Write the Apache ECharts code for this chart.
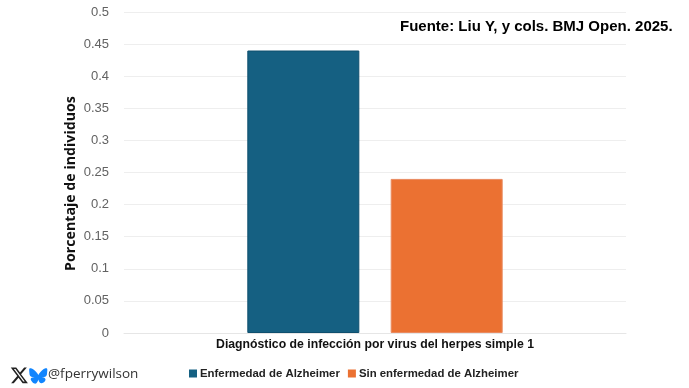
<!DOCTYPE html>
<html>
<head>
<meta charset="utf-8">
<style>
  html, body { margin: 0; padding: 0; background: #fff; }
  #chart { width: 689px; height: 388px; }
</style>
<script src="https://cdn.jsdelivr.net/npm/echarts@6/dist/echarts.min.js"></script>
</head>
<body>
<div id="chart"></div>
<script>
const categories = ['Diagnóstico de infección por virus del herpes simple 1']
const seriesNames = ['Enfermedad de Alzheimer', 'Sin enfermedad de Alzheimer']
const alzheimerValues = [0.44]
const noAlzheimerValues = [0.24]
const yTickLabels = ['0', '0.05', '0.1', '0.15', '0.2', '0.25', '0.3', '0.35', '0.4', '0.45', '0.5']

// logos dibujados sobre una caja de 24x24
echarts.graphic.registerShape('logoX', echarts.graphic.extendPath(
  'M18.2 2h3.4l-7.4 8.5L23 22h-6.8l-5.3-7-6.1 7H1.4l7.9-9.1L1 2h7l4.8 6.4zM17 20h1.9L7 3.9H5z', {}))
echarts.graphic.registerShape('logoBluesky', echarts.graphic.extendPath(
  'M12 11C10.9 8.9 8 5 5.3 3.1 2.7 1.3 1.7 1.6 1.1 1.9.3 2.2.2 3.4.2 4.1c0 .7.4 5.7.6 6.5.8 2.8 3.7 3.7 6.4 3.4-3.9.6-7.4 2-2.8 7.1 5 5.2 6.9-1.1 7.6-3.7.7 2.6 1.6 7.5 7.2 3.7 4.2-3.7 1.2-6.5-2.7-7.1 2.7.3 5.6-.6 6.4-3.4.2-.8.6-5.8.6-6.5 0-.7-.1-1.9-.9-2.2-.6-.3-1.6-.6-4.2 1.2C16 5 13.1 8.9 12 11z', {}))

const chart = echarts.init(document.getElementById('chart'))
const font = '"Liberation Sans", Arial, sans-serif'

chart.setOption({
  animation: false,
  backgroundColor: '#fff',
  grid: { left: 124, right: 63, top: 12, bottom: 55 },
  legend: {
    left: 184,
    top: 363,
    itemWidth: 8,
    itemHeight: 8,
    itemGap: 8,
    icon: 'rect',
    itemStyle: { borderWidth: 0 },
    textStyle: { fontFamily: font, fontWeight: 'bold', fontSize: 11.4, color: '#222', padding: [0, 0, 0, -2] },
    data: seriesNames
  },
  xAxis: {
    type: 'category',
    data: categories,
    axisLine: { lineStyle: { color: '#e6e6e6' } },
    axisTick: { show: false },
    axisLabel: {
      margin: 6,
      fontFamily: font,
      fontWeight: 'bold',
      fontSize: 12.25,
      color: '#111'
    }
  },
  yAxis: {
    type: 'value',
    min: 0,
    max: 0.5,
    interval: 0.05,
    name: 'Porcentaje de individuos',
    nameLocation: 'middle',
    nameGap: 46,
    nameMoveOverlap: false,
    nameTextStyle: {
      fontFamily: '"Open Sans", sans-serif',
      fontWeight: 'bold',
      fontSize: 14.2,
      color: '#111',
      padding: [0, 22, 0, 0]
    },
    axisLine: { show: false },
    axisTick: { show: false },
    splitLine: { lineStyle: { color: '#eeeeee' } },
    axisLabel: {
      margin: 15,
      fontFamily: font,
      fontSize: 13,
      color: '#626262',
      formatter: (v) => yTickLabels[Math.round(v / 0.05)]
    }
  },
  series: [
    {
      name: seriesNames[0],
      type: 'bar',
      data: alzheimerValues,
      barWidth: 112,
      barGap: '28%',
      itemStyle: { color: '#156082', borderColor: '#0f4f6e', borderWidth: 1 }
    },
    {
      name: seriesNames[1],
      type: 'bar',
      data: noAlzheimerValues,
      barWidth: 112,
      itemStyle: { color: '#EB7132', borderColor: '#e98a60', borderWidth: 1 }
    }
  ],
  graphic: [
    {
      type: 'text',
      x: 400,
      y: 19,
      style: { text: 'Fuente: Liu Y, y cols. BMJ Open. 2025.', fontFamily: font, fontWeight: 'bold', fontSize: 15, fill: '#000' }
    },
    {
      type: 'text',
      x: 48,
      y: 367,
      style: { text: '@fperrywilson', fontFamily: '"Open Sans", sans-serif', fontSize: 13.5, fill: '#333' }
    },
    { type: 'logoX', x: 10, y: 366, scaleX: 0.78, scaleY: 0.78, style: { fill: '#222' } },
    { type: 'logoBluesky', x: 29, y: 367, scaleX: 0.78, scaleY: 0.72, style: { fill: '#1185fe' } }
  ]
})
</script>
</body>
</html>
